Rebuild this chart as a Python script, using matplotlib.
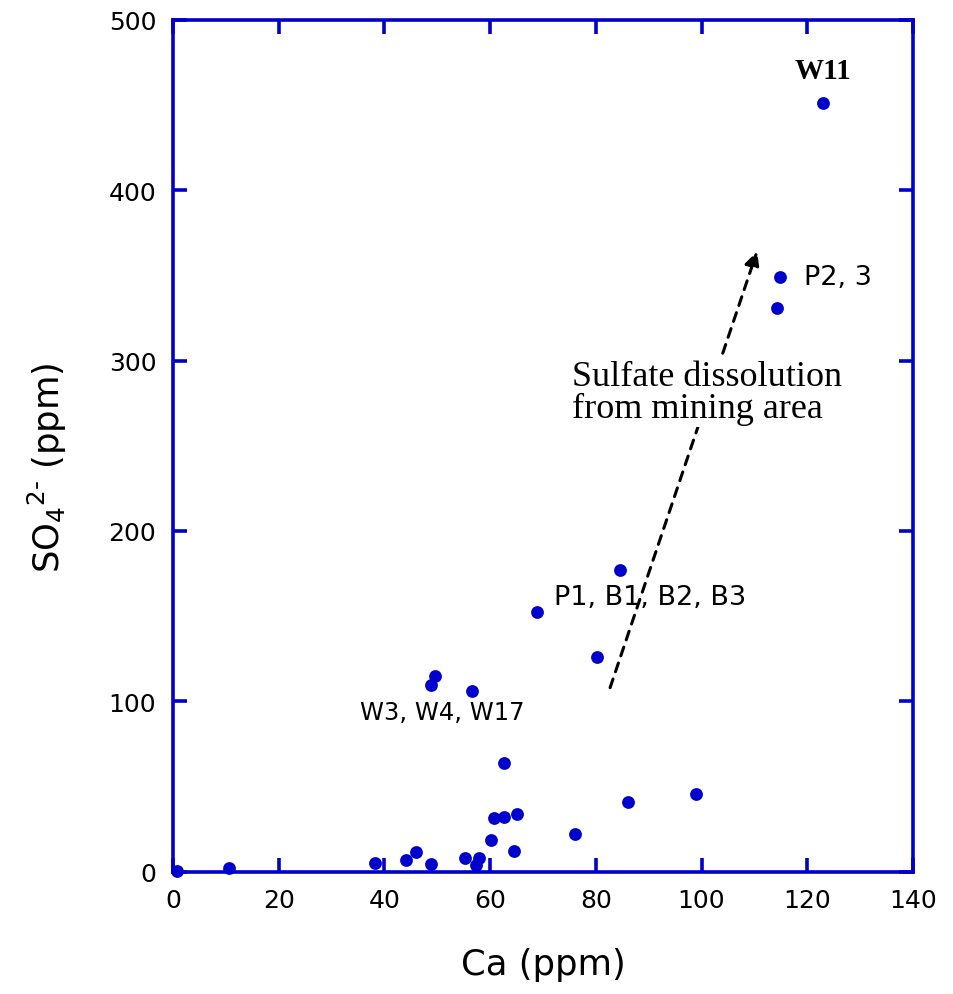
import numpy as np
from matplotlib import pyplot as plt

# Ca and sulfate concentrations (ppm) for the sampled waters
ca = [0.8, 10.6, 38.2, 44.1, 46.0, 48.8, 55.3, 57.4, 57.9, 60.2, 60.7, 62.6,
      62.7, 64.5, 65.0, 76.0, 86.1, 98.9,
      48.8, 49.5, 56.6, 68.9, 80.2, 84.6,
      114.3, 114.9, 122.9]
so4 = [0.5, 2.0, 5.1, 7.0, 11.7, 4.7, 7.8, 4.1, 8.2, 18.8, 31.7, 63.6,
       32.3, 12.3, 33.7, 22.1, 40.9, 45.6,
       109.6, 114.7, 106.2, 152.6, 125.8, 177.2,
       331.0, 349.0, 450.9]

labels = ['W11', 'P2, 3', 'P1, B1, B2, B3', 'W3, W4, W17']
label_x = [122.9, 119.3, 72.0, 35.3]
label_y = [470, 349, 161, 94]
label_size = [21, 19.5, 19.5, 17.5]

blue = '#0000cc'

fig = plt.figure(figsize=(9.54, 9.95), dpi=100)
ax = fig.add_axes([0.1813, 0.1229, 0.7757, 0.8563])

ax.scatter(ca, so4, s=85, color=blue, zorder=3, clip_on=False, linewidths=0)

# trend arrow
ax.annotate('', xy=(110.5, 364), xytext=(82.7, 108),
            arrowprops=dict(arrowstyle='-|>', color='black', lw=2.2,
                            linestyle=(0, (3, 2.5)), mutation_scale=22,
                            shrinkA=0, shrinkB=0), zorder=2)
ax.text(75.5, 281, 'Sulfate dissolution\nfrom mining area', fontsize=26,
        family='Liberation Serif', ha='left', va='center', linespacing=0.95,
        bbox=dict(facecolor='white', edgecolor='none', pad=1), zorder=4)

ax.text(label_x[0], label_y[0], labels[0], fontsize=label_size[0],
        family='Liberation Serif', weight='bold', ha='center', va='center')
for t, x, y, fs in zip(labels[1:], label_x[1:], label_y[1:], label_size[1:]):
    ax.text(x, y, t, fontsize=fs, ha='left', va='center', zorder=4,
            bbox=dict(facecolor='white', edgecolor='none', pad=0.5)
            if t.startswith('W3') else None)

ax.set_xlim(0, 140)
ax.set_ylim(0, 500)
ax.set_xticks(np.arange(0, 141, 20))
ax.set_yticks(np.arange(0, 501, 100))
ax.tick_params(direction='in', length=10, width=2.6, color=blue,
               top=True, right=True, labelsize=18)
ax.tick_params(axis='x', pad=12)
ax.tick_params(axis='y', pad=12)
for sp in ax.spines.values():
    sp.set_color(blue)
    sp.set_linewidth(2.6)

ax.set_xlabel('Ca (ppm)', fontsize=25.5)
ax.set_ylabel('SO$_4$$^{2\u2010}$ (ppm)', fontsize=25.5)
ax.xaxis.set_label_coords(0.5, -0.088)
ax.yaxis.set_label_coords(-0.14, 0.475)

plt.savefig('out.png', dpi=100)
